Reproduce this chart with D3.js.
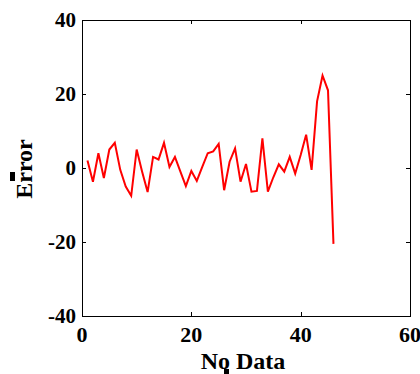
<!DOCTYPE html>
<html><head><meta charset="utf-8">
<script src="https://cdn.jsdelivr.net/npm/d3@7"></script>
<style>body{margin:0;background:#fff}svg{display:block}</style>
</head><body>
<svg id="c" width="420" height="374"></svg>
<script>
const xIndex = d3.range(1, 47);
const errorValues = [2,-3.7,4,-2.7,5,6.8,-0.5,-5,-7.5,5,-1,-6.5,3,2.3,6.8,0.3,3,-1,-4.9,-0.8,-3.5,0.3,4,4.5,6.5,-6,1.7,5.3,-3.7,1.1,-6.4,-6.2,8,-6.4,-2.5,1,-1,3,-1.5,3.5,9,-0.5,18,25,21,-20.5];
const xTicks = [0,20,40,60];
const yTicks = [-40,-20,0,20,40];
const xLabel = "No Data";
const yLabel = "Error";

const svg = d3.select("#c");
const L = 82, R = 410, T = 20, B = 316;
const x = d3.scaleLinear().domain([0,60]).range([L,R]);
const y = d3.scaleLinear().domain([-40,40]).range([B,T]);
const font = "'Liberation Serif','Times New Roman',serif";

// frame
svg.append("rect").attr("x",L).attr("y",T).attr("width",R-L).attr("height",B-T)
  .attr("fill","none").attr("stroke","#000").attr("stroke-width",1).attr("shape-rendering","crispEdges");

// axes
const ax = (g, axis) => { g.call(axis); g.select(".domain").remove(); g.selectAll("line").attr("stroke","#000").attr("shape-rendering","crispEdges"); g.selectAll("text").remove(); };
svg.append("g").attr("transform",`translate(0,${B})`).call(g=>ax(g,d3.axisTop(x).tickValues(xTicks).tickSize(4)));
svg.append("g").attr("transform",`translate(0,${T})`).call(g=>ax(g,d3.axisBottom(x).tickValues(xTicks).tickSize(4)));
svg.append("g").attr("transform",`translate(${L},0)`).call(g=>ax(g,d3.axisRight(y).tickValues(yTicks).tickSize(4)));
svg.append("g").attr("transform",`translate(${R},0)`).call(g=>ax(g,d3.axisLeft(y).tickValues(yTicks).tickSize(4)));

// tick labels
svg.append("g").selectAll("text").data(xTicks).join("text")
  .attr("x",d=>x(d)).attr("y",342).attr("text-anchor","middle")
  .attr("font-family",font).attr("font-weight","bold").attr("font-size",22).text(d=>d);
svg.append("g").selectAll("text").data(yTicks).join("text")
  .attr("x",L-6).attr("y",d=>y(d)+7).attr("text-anchor","end")
  .attr("font-family",font).attr("font-weight","bold").attr("font-size",21).text(d=>d);

// axis labels
svg.append("text").attr("x",243).attr("y",369).attr("text-anchor","middle")
  .attr("font-family",font).attr("font-weight","bold").attr("font-size",24).text(xLabel);
svg.append("rect").attr("x",224).attr("y",369).attr("width",5).attr("height",5).attr("fill","#000");
svg.append("text").attr("transform","translate(32,169) rotate(-90)").attr("text-anchor","middle")
  .attr("font-family",font).attr("font-weight","bold").attr("font-size",24).text(yLabel);
svg.append("rect").attr("x",10).attr("y",172).attr("width",5).attr("height",9).attr("fill","#000");

// line
svg.append("path").datum(xIndex.map((d,i)=>[d,errorValues[i]]))
  .attr("fill","none").attr("stroke","#ff0000").attr("stroke-width",2).attr("stroke-linejoin","miter")
  .attr("d", d3.line().x(d=>x(d[0])).y(d=>y(d[1])));
</script>
</body></html>
